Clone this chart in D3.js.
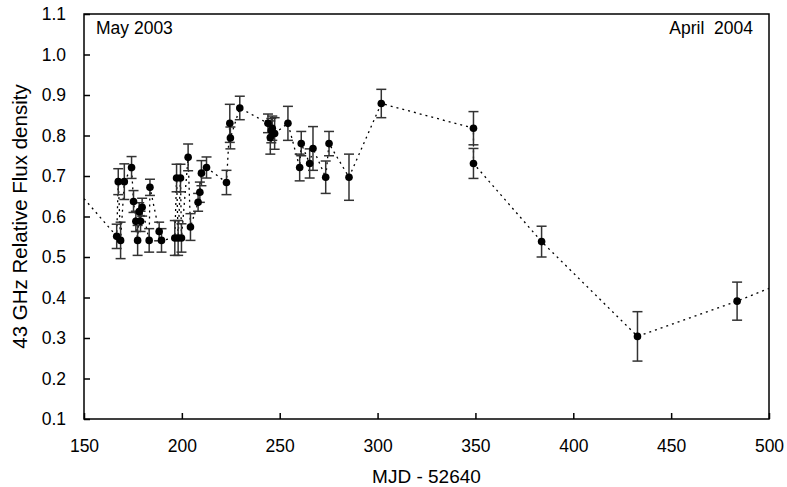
<!DOCTYPE html>
<html>
<head>
<meta charset="utf-8">
<script src="https://cdn.jsdelivr.net/npm/d3@7"></script>
<style>
  body { margin: 0; background: #fff; }
  svg text { font-family: "Liberation Sans", Arial, sans-serif; fill: #000; }
</style>
</head>
<body>
<svg id="chart" width="787" height="487"></svg>
<script>
// MJD - 52640, flux, error
var mjd = [140,
  166.7, 167.5, 168.7, 170.6, 174.3, 175.3, 176.5, 177.4, 178.2, 178.9,
  179.7, 183.3, 183.7, 188.4, 189.6, 196.4, 197.3, 198.1, 199.3, 199.8,
  203.2, 204.4, 208.3, 209.2, 210.0, 212.6, 222.8, 224.5, 224.8, 229.6,
  244.0, 245.2, 245.7, 246.2, 247.4, 254.2, 260.2, 261.0, 265.3, 267.0,
  273.5, 275.2, 285.4, 301.9, 349.0, 349.0, 383.8, 432.8, 483.7,
  530];
var flux = [0.70,
  0.551, 0.686, 0.541, 0.686, 0.721, 0.637, 0.588, 0.541, 0.612, 0.588,
  0.623, 0.541, 0.672, 0.563, 0.541, 0.547, 0.695, 0.547, 0.695, 0.547,
  0.746, 0.574, 0.635, 0.660, 0.707, 0.721, 0.684, 0.830, 0.794, 0.868,
  0.830, 0.795, 0.812, 0.818, 0.805, 0.830, 0.721, 0.780, 0.731, 0.768,
  0.697, 0.780, 0.697, 0.879, 0.818, 0.731, 0.538, 0.304, 0.391,
  0.48];
var err = [0,
  0.030, 0.032, 0.045, 0.044, 0.027, 0.027, 0.025, 0.037, 0.022, 0.025,
  0.022, 0.029, 0.020, 0.023, 0.029, 0.043, 0.034, 0.043, 0.034, 0.035,
  0.033, 0.033, 0.022, 0.025, 0.031, 0.026, 0.030, 0.047, 0.027, 0.029,
  0.023, 0.041, 0.030, 0.030, 0.039, 0.042, 0.033, 0.030, 0.036, 0.054,
  0.040, 0.030, 0.057, 0.035, 0.041, 0.037, 0.038, 0.061, 0.047,
  0];

var xTicks = [150, 200, 250, 300, 350, 400, 450, 500];
var yTicks = [0.1, 0.2, 0.3, 0.4, 0.5, 0.6, 0.7, 0.8, 0.9, 1.0, 1.1];

var margin = { top: 14, right: 18, bottom: 68, left: 84 };
var width = 787 - margin.left - margin.right,
  height = 487 - margin.top - margin.bottom;

var svg = d3.select('#chart');
var g = svg.append('g')
  .attr('transform', 'translate(' + margin.left + ',' + margin.top + ')');

var x = d3.scaleLinear().domain([150, 500]).range([0, width]);
var y = d3.scaleLinear().domain([0.1, 1.1]).range([height, 0]);

var pts = mjd.map(function (m, i) {
  return { m: m, v: flux[i], e: err[i], inside: m >= 150 && m <= 500 };
});

g.append('clipPath').attr('id', 'clip')
  .append('rect').attr('width', width).attr('height', height);

// dotted connecting line
g.append('path')
  .datum(pts)
  .attr('clip-path', 'url(#clip)')
  .attr('fill', 'none')
  .attr('stroke', '#000')
  .attr('stroke-width', 1.3)
  .attr('stroke-dasharray', '2,4')
  .attr('d', d3.line()
    .x(function (d) { return x(d.m); })
    .y(function (d) { return y(d.v); }));

var inner = pts.filter(function (d) { return d.inside; });

// error bars
var eb = g.selectAll('g.err').data(inner).enter().append('g')
  .attr('class', 'err')
  .attr('stroke', '#333')
  .attr('stroke-width', 1.5);
eb.append('line')
  .attr('x1', function (d) { return x(d.m); })
  .attr('x2', function (d) { return x(d.m); })
  .attr('y1', function (d) { return y(d.v - d.e); })
  .attr('y2', function (d) { return y(d.v + d.e); });
[-1, 1].forEach(function (s) {
  eb.append('line')
    .attr('x1', function (d) { return x(d.m) - 5; })
    .attr('x2', function (d) { return x(d.m) + 5; })
    .attr('y1', function (d) { return y(d.v + s * d.e); })
    .attr('y2', function (d) { return y(d.v + s * d.e); });
});

// points
g.selectAll('circle.pt').data(inner).enter().append('circle')
  .attr('class', 'pt')
  .attr('cx', function (d) { return x(d.m); })
  .attr('cy', function (d) { return y(d.v); })
  .attr('r', 3.8)
  .attr('fill', '#000');

// axes (ticks pointing inward)
var xAxis = g.append('g')
  .attr('transform', 'translate(0,' + height + ')')
  .call(d3.axisBottom(x).tickValues(xTicks).tickSize(-6).tickPadding(21)
    .tickFormat(d3.format('d')));
var yAxis = g.append('g')
  .call(d3.axisLeft(y).tickValues(yTicks).tickSize(-6).tickPadding(18)
    .tickFormat(d3.format('.1f')));
[xAxis, yAxis].forEach(function (a) {
  a.select('.domain').remove();
  a.selectAll('line').attr('stroke', '#000').attr('stroke-width', 1.5);
  a.selectAll('text').style('font-size', '17.5px')
    .style('font-family', '"Liberation Sans", Arial, sans-serif');
});

// frame
g.append('rect')
  .attr('width', width).attr('height', height)
  .attr('fill', 'none').attr('stroke', '#000').attr('stroke-width', 1.5);

// annotations
g.append('text').attr('x', 12).attr('y', 20)
  .style('font-size', '17.5px').text('May 2003');
g.append('text').attr('x', width - 16).attr('y', 20)
  .attr('text-anchor', 'end')
  .style('font-size', '17.5px').text('April\u00a0 2004');

// axis titles
svg.append('text')
  .attr('x', margin.left + width / 2).attr('y', 483)
  .attr('text-anchor', 'middle').style('font-size', '19px')
  .text('MJD - 52640');
svg.append('text')
  .attr('transform', 'translate(27,' + (margin.top + height / 2) + ') rotate(-90)')
  .attr('text-anchor', 'middle').style('font-size', '20.5px')
  .text('43 GHz Relative Flux density');
</script>
</body>
</html>
